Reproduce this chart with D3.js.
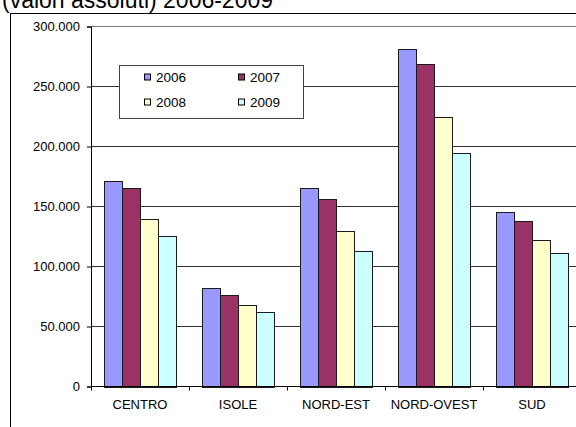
<!DOCTYPE html>
<html>
<head>
<meta charset="utf-8">
<script src="https://cdn.jsdelivr.net/npm/d3@7"></script>
<style>
  html, body { margin: 0; padding: 0; background: #fff; }
  svg { display: block; font-family: Arial, "Liberation Sans", sans-serif; }
</style>
</head>
<body>
<svg id="chart" width="576" height="427"></svg>
<script>
const title = "(valori assoluti) 2006-2009";
const categories = ["CENTRO", "ISOLE", "NORD-EST", "NORD-OVEST", "SUD"];
const years = ["2006", "2007", "2008", "2009"];
const values2006 = [171000, 81700, 165000, 281000, 145200];
const values2007 = [165000, 75900, 156600, 268400, 138300];
const values2008 = [139700, 67600, 129700, 224300, 122500];
const values2009 = [125500, 61700, 112800, 194900, 111400];
const yTicks = [0, 50000, 100000, 150000, 200000, 250000, 300000];
const colors = ["#9999FF", "#993366", "#FFFFCC", "#CCFFFF"];

const series = [values2006, values2007, values2008, values2009];

const svg = d3.select("#chart");
const W = 576, H = 427;
const plot = { left: 91, right: 581, top: 26.5, bottom: 386.5 };

// Title (partly cut off at top, as in the reference)
svg.append("text")
  .attr("x", 2).attr("y", 8)
  .attr("font-size", 23)
  .attr("fill", "#000")
  .text(title);

// Outer chart area border
svg.append("rect")
  .attr("x", 10.5).attr("y", 13.5)
  .attr("width", W + 20).attr("height", H + 20)
  .attr("fill", "#fff").attr("stroke", "#000").attr("stroke-width", 1);

const x = d3.scaleBand().domain(categories).range([plot.left, plot.right]).paddingInner(0).paddingOuter(0);
const xi = d3.scaleBand().domain(years).range([0, x.bandwidth()]).paddingInner(0).paddingOuter(0.7);
const y = d3.scaleLinear().domain([0, 300000]).range([plot.bottom, plot.top]);

const locale = d3.formatLocale({ decimal: ",", thousands: ".", grouping: [3], currency: ["", "€"] });
const fmt = locale.format(",.0f");

// Gridlines
svg.append("g").selectAll("line")
  .data(yTicks.filter(d => d > 0))
  .join("line")
  .attr("x1", plot.left).attr("x2", plot.right)
  .attr("y1", d => y(d)).attr("y2", d => y(d))
  .attr("stroke", d => d === 300000 ? "#777" : "#333")
  .attr("stroke-width", 1);

// Bars
const groups = svg.append("g").selectAll("g")
  .data(years)
  .join("g")
  .attr("fill", (d, i) => colors[i]);

groups.each(function(yr, si) {
  d3.select(this).selectAll("rect")
    .data(categories.map((c, ci) => ({ c, v: series[si][ci] })))
    .join("rect")
    .attr("x", d => Math.round(x(d.c) + xi(yr)) + 0.5)
    .attr("y", d => Math.round(y(d.v)) + 0.5)
    .attr("width", Math.round(xi.bandwidth()))
    .attr("height", d => Math.round(y(0)) - Math.round(y(d.v)))
    .attr("stroke", "#1a1a1a")
    .attr("stroke-width", 1);
});

// Y axis
const yAxis = d3.axisLeft(y).tickValues(yTicks).tickFormat(d => fmt(d)).tickSize(4).tickPadding(7);
const gy = svg.append("g").attr("transform", `translate(${plot.left},0)`).call(yAxis);
gy.select(".domain").attr("stroke", "#000");
gy.selectAll(".tick line").attr("stroke", "#000");
gy.selectAll(".tick text").attr("font-size", 13).attr("fill", "#000")
  .attr("font-family", "Arial, 'Liberation Sans', sans-serif");

// X axis
svg.append("line")
  .attr("x1", plot.left).attr("x2", plot.right)
  .attr("y1", plot.bottom).attr("y2", plot.bottom)
  .attr("stroke", "#000");
const boundaries = categories.map(c => x(c)).concat([plot.right]);
svg.append("g").selectAll("line")
  .data(boundaries)
  .join("line")
  .attr("x1", d => Math.round(d) + 0.5).attr("x2", d => Math.round(d) + 0.5)
  .attr("y1", plot.bottom).attr("y2", plot.bottom + 4)
  .attr("stroke", "#000");
svg.append("g").selectAll("text")
  .data(categories)
  .join("text")
  .attr("x", d => x(d) + x.bandwidth() / 2)
  .attr("y", 408.5)
  .attr("text-anchor", "middle")
  .attr("font-size", 13)
  .attr("fill", "#000")
  .text(d => d);

// Legend
const lg = svg.append("g");
lg.append("rect")
  .attr("x", 119.5).attr("y", 65.5)
  .attr("width", 184).attr("height", 53)
  .attr("fill", "#fff").attr("stroke", "#444");
const legendPos = [
  { sx: 144, ty: 77.5 }, { sx: 238, ty: 77.5 },
  { sx: 144, ty: 102.5 }, { sx: 238, ty: 102.5 }
];
years.forEach((yr, i) => {
  const p = legendPos[i];
  lg.append("rect")
    .attr("x", p.sx + 0.5).attr("y", p.ty - 3.5)
    .attr("width", 6).attr("height", 6)
    .attr("fill", colors[i]).attr("stroke", "#000");
  lg.append("text")
    .attr("x", p.sx + 12).attr("y", p.ty)
    .attr("dy", "0.35em")
    .attr("font-size", 13.5)
    .attr("fill", "#000")
    .text(yr);
});
</script>
</body>
</html>
